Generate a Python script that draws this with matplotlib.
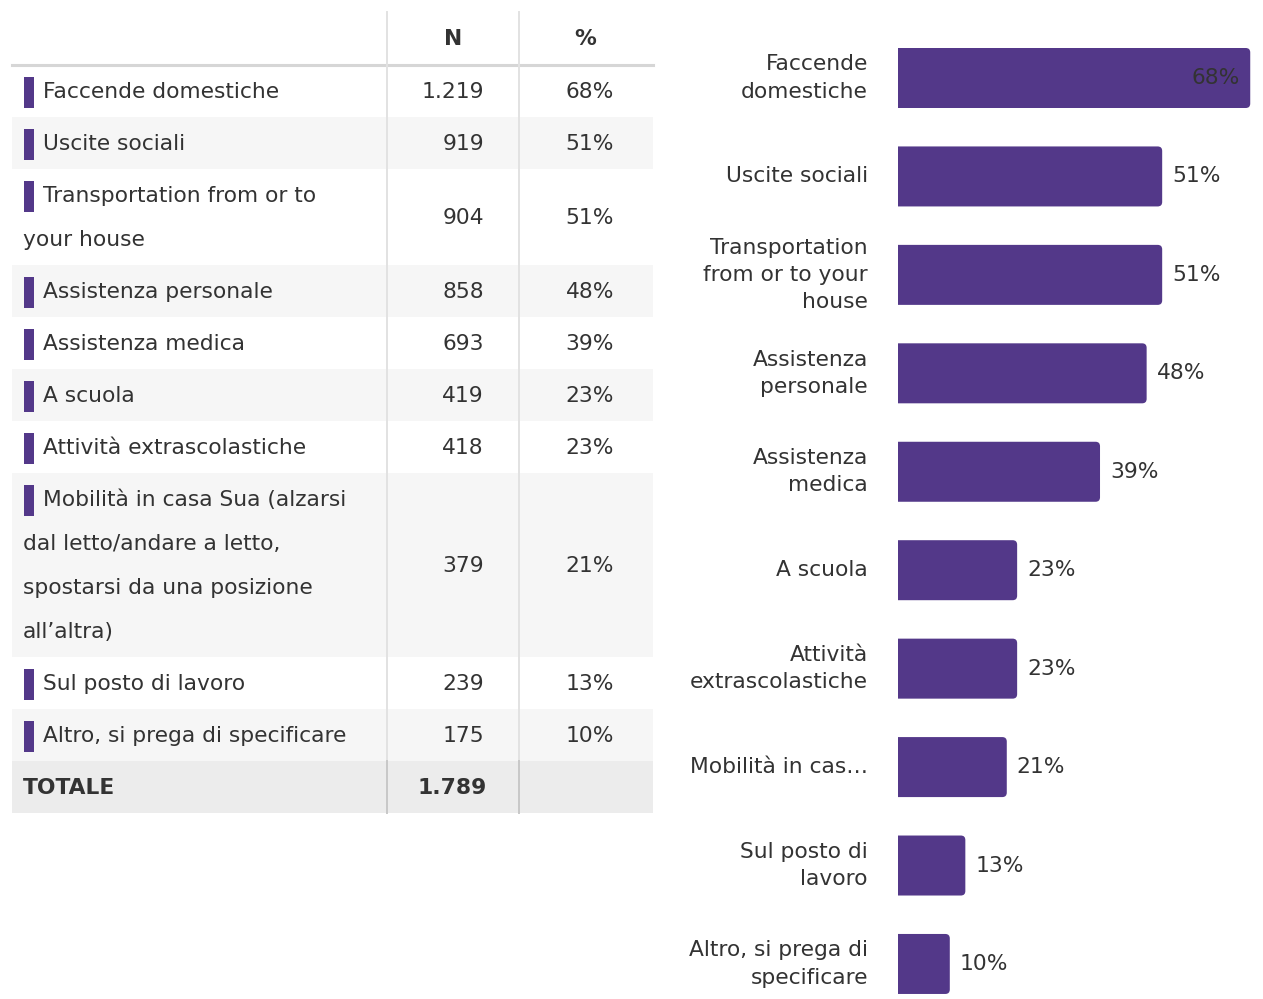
import matplotlib
matplotlib.use("Agg")
import matplotlib.pyplot as plt
from matplotlib.patches import Rectangle, PathPatch
from matplotlib.path import Path

# ---- data -------------------------------------------------------------
table_labels = [
    "Faccende domestiche",
    "Uscite sociali",
    "Transportation from or to\nyour house",
    "Assistenza personale",
    "Assistenza medica",
    "A scuola",
    "Attività extrascolastiche",
    "Mobilità in casa Sua (alzarsi\ndal letto/andare a letto,\nspostarsi da una posizione\nall’altra)",
    "Sul posto di lavoro",
    "Altro, si prega di specificare",
]
bar_labels = [
    "Faccende\ndomestiche",
    "Uscite sociali",
    "Transportation\nfrom or to your\nhouse",
    "Assistenza\npersonale",
    "Assistenza\nmedica",
    "A scuola",
    "Attività\nextrascolastiche",
    "Mobilità in cas…",
    "Sul posto di\nlavoro",
    "Altro, si prega di\nspecificare",
]
counts = [1219, 919, 904, 858, 693, 419, 418, 379, 239, 175]
percents = [68, 51, 51, 48, 39, 23, 23, 21, 13, 10]
total_count = 1789
col_headers = ["N", "%"]
total_label = "TOTALE"

# ---- style ------------------------------------------------------------
PURPLE = "#533889"
TEXT = "#333333"
FS = 15.7
W, H = 1263, 999

plt.rcParams["font.family"] = ["DejaVu Sans"]
fig = plt.figure(figsize=(W / 100, H / 100), dpi=100)
fig.patch.set_facecolor("white")


def fmt_it(n):
    return f"{n:,}".replace(",", ".")


# ---- table (pixel coordinates) ----------------------------------------
tab = fig.add_axes([0, 0, 1, 1])
tab.set_xlim(0, W)
tab.set_ylim(H, 0)
tab.axis("off")

x0, x1, x2, x3 = 12, 387, 519, 653
head_top, head_bot = 12, 65
row_h, line_h = 52, 44

tab.text((x1 + x2) / 2, 39, col_headers[0], ha="center", va="center",
         fontsize=FS, fontweight="bold", color=TEXT)
tab.text((x2 + x3) / 2 - 1, 39, col_headers[1], ha="center", va="center",
         fontsize=FS, fontweight="bold", color=TEXT)

y = head_bot
for i, (lab, n, p) in enumerate(zip(table_labels, counts, percents)):
    lines = lab.split("\n")
    h = row_h + line_h * (len(lines) - 1)
    bg = "white" if i % 2 == 0 else "#f6f6f6"
    tab.add_patch(Rectangle((x0, y), x3 - x0, h, facecolor=bg, edgecolor="none", zorder=0))
    first = y + 27
    tab.add_patch(Rectangle((24, first - 15.5), 10, 31, facecolor=PURPLE, edgecolor="none", zorder=2))
    for k, ln in enumerate(lines):
        tx = 43 if k == 0 else 23
        tab.text(tx, first + k * line_h, ln, ha="left", va="center", fontsize=FS, color=TEXT)
    cy = y + h / 2 + 1
    tab.text(484, cy, fmt_it(n), ha="right", va="center", fontsize=FS, color=TEXT)
    tab.text(614, cy, f"{p}%", ha="right", va="center", fontsize=FS, color=TEXT)
    y += h

# total row
tab.add_patch(Rectangle((x0, y), x3 - x0, row_h, facecolor="#ececec", edgecolor="none", zorder=0))
tab.text(23, y + 27, total_label, ha="left", va="center", fontsize=FS, fontweight="bold", color=TEXT)
tab.text(487, y + 27, fmt_it(total_count), ha="right", va="center", fontsize=FS,
         fontweight="bold", color=TEXT)
total_top = y
table_bottom = y + row_h

# grid lines
tab.plot([x0, x3], [head_bot, head_bot], color="#d6d6d6", lw=2.2, zorder=3)
for xv in (x1, x2):
    tab.plot([xv, xv], [head_top, total_top], color="#e2e2e2", lw=1.4, zorder=3)
    tab.plot([xv, xv], [total_top, table_bottom], color="#c8c8c8", lw=1.4, zorder=3)

# ---- bar chart --------------------------------------------------------
ax_left, ax_right = 898, W
ax_top, ax_bot = 20, H
px_per_pct = 5.18
first_c, step = 78, 98.44

ax = fig.add_axes([ax_left / W, (H - ax_bot) / H, (ax_right - ax_left) / W, (ax_bot - ax_top) / H])
ax.set_xlim(0, (ax_right - ax_left) / px_per_pct)
ax.set_ylim(9 + (ax_bot - (first_c + 9 * step)) / step, -(first_c - ax_top) / step)
ax.axis("off")

bar_h = 60 / step
r_px = 4.5
rx = r_px / px_per_pct
ry = r_px / step


def bar_path(value, center):
    """Bar with a square left end and rounded right corners."""
    y0, y1 = center - bar_h / 2, center + bar_h / 2
    verts = [
        (0, y0), (value - rx, y0), (value, y0), (value, y0 + ry),
        (value, y1 - ry), (value, y1), (value - rx, y1), (0, y1), (0, y0),
    ]
    codes = [
        Path.MOVETO, Path.LINETO, Path.CURVE3, Path.CURVE3,
        Path.LINETO, Path.CURVE3, Path.CURVE3, Path.LINETO, Path.CLOSEPOLY,
    ]
    return Path(verts, codes)


for i, p in enumerate(percents):
    ax.add_patch(PathPatch(bar_path(p, i), facecolor=PURPLE, edgecolor="none", clip_on=False))
    if p >= 60:
        ax.text(p - 10 / px_per_pct, i, f"{p}%", ha="right", va="center",
                fontsize=FS, color=TEXT)
    else:
        ax.text(p + 10 / px_per_pct, i, f"{p}%", ha="left", va="center",
                fontsize=FS, color=TEXT)
    ax.text(-30 / px_per_pct, i, bar_labels[i], ha="right", va="center",
            fontsize=FS, color=TEXT, linespacing=1.45, clip_on=False)

fig.savefig("out.png", dpi=100, facecolor="white")
